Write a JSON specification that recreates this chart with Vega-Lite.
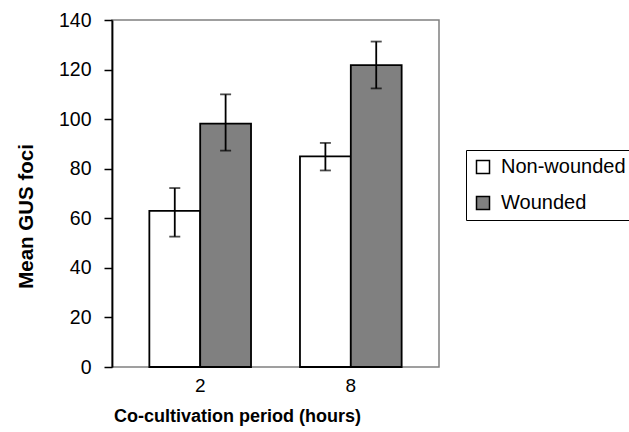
{
  "$schema": "https://vega.github.io/schema/vega-lite/v6.json",
  "width": 327,
  "height": 347,
  "autosize": "none",
  "padding": {"left": 112, "top": 20, "right": 190, "bottom": 65},
  "background": "white",
  "config": {
    "font": "Liberation Sans",
    "view": {"stroke": "#808080", "strokeWidth": 1.5},
    "axis": {"grid": false, "labelFont": "Liberation Sans", "titleFont": "Liberation Sans", "labelColor": "black", "titleColor": "black"}
  },
  "data": {
    "values": [
      {"period": "2", "treatment": "Non-wounded", "mean": 63.0, "lo": 52.6, "hi": 72.2},
      {"period": "2", "treatment": "Wounded", "mean": 98.2, "lo": 87.3, "hi": 110.0},
      {"period": "8", "treatment": "Non-wounded", "mean": 85.0, "lo": 79.3, "hi": 90.4},
      {"period": "8", "treatment": "Wounded", "mean": 121.8, "lo": 112.4, "hi": 131.3}
    ]
  },
  "encoding": {
    "x": {
      "field": "period", "type": "nominal",
      "scale": {"paddingInner": 0.325, "paddingOuter": 0.248},
      "axis": {
        "title": "Co-cultivation period (hours)", "titleFontSize": 18, "titleFontWeight": "bold",
        "titleX": 125, "titlePadding": 12,
        "labelAngle": 0, "labelFontSize": 19, "labelPadding": 9,
        "ticks": false, "domain": false
      }
    },
    "xOffset": {"field": "treatment", "type": "nominal", "scale": {"paddingInner": 0, "paddingOuter": 0}, "sort": ["Non-wounded", "Wounded"]}
  },
  "layer": [
    {
      "mark": {"type": "bar", "stroke": "black", "strokeWidth": 1.8},
      "encoding": {
        "y": {
          "field": "mean", "type": "quantitative",
          "scale": {"domain": [0, 140], "nice": false},
          "axis": {
            "values": [0, 20, 40, 60, 80, 100, 120, 140],
            "title": "Mean GUS foci", "titleFontSize": 20.5, "titleFontWeight": "bold",
            "titleY": 196, "titlePadding": 22,
            "labelFontSize": 19.5, "labelPadding": 13,
            "tickSize": 8, "tickColor": "black", "tickWidth": 1.5,
            "domainColor": "black", "domainWidth": 1.8
          }
        },
        "fill": {
          "field": "treatment", "type": "nominal",
          "scale": {"domain": ["Non-wounded", "Wounded"], "range": ["white", "#808080"]},
          "legend": {
            "title": null, "orient": "none", "legendX": 354, "legendY": 130,
            "symbolType": "square", "symbolSize": 169, "symbolStrokeColor": "black", "symbolStrokeWidth": 1.5,
            "labelFontSize": 20, "labelOffset": 8, "rowPadding": 16,
            "strokeColor": "black", "padding": 7, "fillColor": "white"
          }
        }
      }
    },
    {
      "mark": {"type": "rule", "color": "black", "strokeWidth": 1.8},
      "encoding": {
        "y": {"field": "lo", "type": "quantitative"},
        "y2": {"field": "hi"}
      }
    },
    {
      "mark": {"type": "tick", "color": "black", "size": 11, "thickness": 1.8},
      "encoding": {"y": {"field": "lo", "type": "quantitative"}}
    },
    {
      "mark": {"type": "tick", "color": "black", "size": 11, "thickness": 1.8},
      "encoding": {"y": {"field": "hi", "type": "quantitative"}}
    }
  ]
}
